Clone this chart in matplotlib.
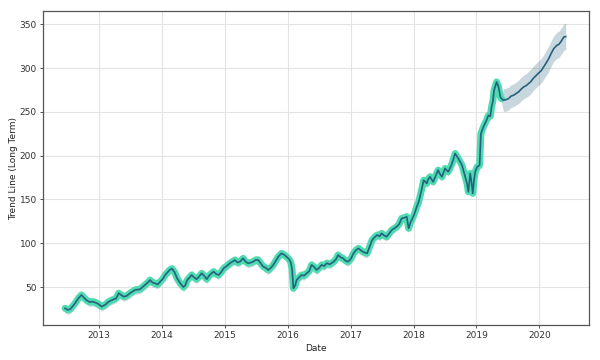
import datetime as dt
import matplotlib
matplotlib.use('Agg')
import matplotlib.pyplot as plt

# observed trend (decimal years, value)
hist_years = [
    2012.46, 2012.50, 2012.54, 2012.58, 2012.62, 2012.67, 2012.72, 2012.76, 2012.80, 2012.85,
    2012.91, 2012.95, 2012.99, 2013.04, 2013.10, 2013.15, 2013.23, 2013.27, 2013.31, 2013.35,
    2013.39, 2013.44, 2013.49, 2013.57, 2013.65, 2013.69, 2013.73, 2013.77, 2013.81, 2013.85,
    2013.89, 2013.93, 2013.97, 2014.01, 2014.05, 2014.09, 2014.13, 2014.16, 2014.20, 2014.24,
    2014.29, 2014.34, 2014.37, 2014.40, 2014.44, 2014.47, 2014.51, 2014.55, 2014.59, 2014.63,
    2014.67, 2014.71, 2014.76, 2014.82, 2014.86, 2014.90, 2014.94, 2014.98, 2015.03, 2015.08,
    2015.12, 2015.16, 2015.20, 2015.24, 2015.29, 2015.33, 2015.37, 2015.41, 2015.45, 2015.49,
    2015.53, 2015.57, 2015.61, 2015.65, 2015.69, 2015.73, 2015.77, 2015.81, 2015.85, 2015.90,
    2015.94, 2015.98, 2016.02, 2016.05, 2016.07, 2016.09, 2016.12, 2016.14, 2016.18, 2016.22,
    2016.26, 2016.30, 2016.34, 2016.38, 2016.42, 2016.46, 2016.50, 2016.54, 2016.58, 2016.62,
    2016.67, 2016.73, 2016.77, 2016.80, 2016.84, 2016.88, 2016.92, 2016.96, 2017.00, 2017.04,
    2017.08, 2017.12, 2017.16, 2017.20, 2017.26, 2017.30, 2017.34, 2017.38, 2017.42, 2017.46,
    2017.49, 2017.53, 2017.57, 2017.61, 2017.65, 2017.69, 2017.73, 2017.77, 2017.81, 2017.85,
    2017.89, 2017.92, 2017.95, 2017.97, 2018.01, 2018.05, 2018.08, 2018.10, 2018.13, 2018.16,
    2018.21, 2018.23, 2018.26, 2018.31, 2018.35, 2018.39, 2018.42, 2018.45, 2018.50, 2018.55,
    2018.58, 2018.61, 2018.64, 2018.66, 2018.71, 2018.74, 2018.77, 2018.82, 2018.85, 2018.87,
    2018.90, 2018.92, 2018.94, 2018.96, 2018.98, 2019.01, 2019.05, 2019.07, 2019.11, 2019.16,
    2019.19, 2019.22, 2019.24, 2019.26, 2019.28, 2019.32, 2019.35, 2019.38, 2019.40,
]
hist_values = [
    25.8, 24.0, 24.7, 28.0, 31.5, 37.0, 41.0, 38.0, 35.0, 33.0,
    33.3, 32.0, 30.7, 27.7, 30.0, 33.3, 36.0, 37.0, 43.0, 41.0,
    39.0, 40.0, 43.0, 46.7, 47.5, 50.0, 52.4, 55.0, 58.0, 55.0,
    54.3, 53.0, 56.2, 59.0, 63.8, 67.0, 70.0, 71.0, 67.0, 60.0,
    54.3, 50.0, 52.0, 58.0, 61.0, 63.8, 61.0, 59.0, 62.0, 65.7,
    63.0, 59.0, 64.0, 67.6, 65.0, 63.8, 67.0, 71.4, 74.0, 77.2,
    79.0, 80.9, 78.0, 79.0, 82.8, 79.0, 77.2, 78.0, 79.0, 81.0,
    80.9, 77.0, 73.3, 72.0, 69.5, 72.0, 75.3, 80.0, 84.7, 88.5,
    87.0, 84.7, 82.0, 78.0, 70.0, 48.6, 52.0, 58.0, 61.0, 63.8,
    63.0, 65.7, 68.0, 75.3, 73.0, 69.5, 72.0, 75.3, 74.0, 77.2,
    76.0, 79.0, 82.0, 86.6, 84.0, 82.8, 80.0, 79.0, 82.0, 88.0,
    92.0, 94.2, 92.0, 90.0, 88.5, 96.0, 103.7, 107.0, 109.4, 108.0,
    111.3, 109.0, 107.5, 111.0, 115.0, 117.0, 118.9, 122.0, 128.5, 129.0,
    130.4, 117.0, 124.0, 126.6, 133.0, 141.7, 147.0, 153.0, 162.0, 172.0,
    168.4, 173.0, 175.9, 170.2, 177.0, 183.5, 179.0, 175.9, 185.4, 181.6,
    186.0, 190.9, 198.0, 202.5, 196.8, 193.0, 189.0, 175.9, 168.0, 158.8,
    179.7, 170.0, 157.0, 172.0, 181.6, 187.3, 189.0, 225.0, 232.9, 240.5,
    246.0, 245.0, 255.7, 262.0, 274.7, 284.2, 278.5, 267.1, 265.0,
]
hist_halfwidth = 5

# forecast trend
fc_years = [
    2019.40, 2019.43, 2019.47, 2019.51, 2019.55, 2019.59, 2019.63, 2019.67, 2019.71, 2019.75,
    2019.79, 2019.83, 2019.87, 2019.90, 2019.94, 2019.98, 2020.03, 2020.07, 2020.11, 2020.15,
    2020.19, 2020.23, 2020.28, 2020.31, 2020.34, 2020.39, 2020.42,
]
fc_values = [
    265.0, 263.3, 264.0, 265.2, 268.0, 269.0, 271.0, 272.8, 276.0, 278.5,
    280.0, 282.4, 285.0, 288.1, 291.0, 293.8, 297.0, 301.4, 306.0, 310.9,
    317.0, 322.3, 326.1, 327.0, 329.8, 335.5, 336.0,
]
fc_halfwidth = [
    13, 13, 13, 13, 13, 13, 13, 13.5, 13.5, 13.5,
    13.5, 14, 14, 14, 14, 14, 14, 14, 14.5, 14.5,
    14.5, 14.5, 15, 15, 15, 15, 15,
]


def to_date(year):
    base = dt.datetime(int(year), 1, 1)
    return base + dt.timedelta(days=(year - int(year)) * 365.25)


hist_dates = [to_date(y) for y in hist_years]
fc_dates = [to_date(y) for y in fc_years]
all_dates = hist_dates + fc_dates[1:]
all_values = hist_values + fc_values[1:]
all_half = [hist_halfwidth] * len(hist_values) + fc_halfwidth[1:]
lower = [v - h for v, h in zip(all_values, all_half)]
upper = [v + h for v, h in zip(all_values, all_half)]

dark = '#27607f'
teal = '#4ddbb0'

fig = plt.figure(figsize=(6, 3.6), dpi=100)
ax = fig.add_axes([0.0717, 0.0972, 0.91, 0.8718])

ax.fill_between(all_dates, lower, upper, color=dark, alpha=0.25, linewidth=0, zorder=1)
ax.plot(hist_dates, hist_values, color=teal, linewidth=5, zorder=2,
        solid_capstyle='round', solid_joinstyle='round')
ax.plot(all_dates, all_values, color=dark, linewidth=1.2, zorder=3)

ax.set_xlim(to_date(2012.11), to_date(2020.79))
ax.set_ylim(6.7, 365)
ax.grid(True, color='#e3e3e3', linewidth=0.8)
ax.set_axisbelow(True)
for spine in ax.spines.values():
    spine.set_color('#555555')
    spine.set_linewidth(0.9)
ax.tick_params(labelsize=6.5, length=2.5, width=0.6, colors='#333333', pad=2)
ax.set_xlabel('Date', fontsize=6.5, color='#222222', labelpad=3)
ax.set_ylabel('Trend Line (Long Term)', fontsize=6.5, color='#222222', labelpad=1)
ax.set_yticks([50, 100, 150, 200, 250, 300, 350])

fig.savefig('out.png', dpi=100)
